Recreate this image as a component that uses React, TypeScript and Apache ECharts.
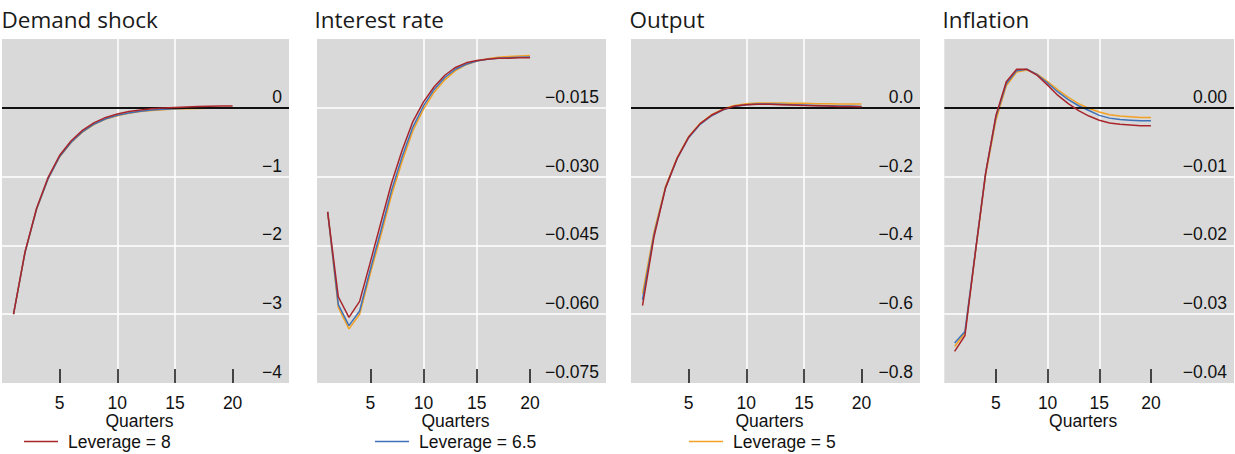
import React, { useEffect, useRef } from "react";
import * as echarts from "echarts";

const quarters = [1, 2, 3, 4, 5, 6, 7, 8, 9, 10, 11, 12, 13, 14, 15, 16, 17, 18, 19, 20];

const panelTitles = ["Demand shock", "Interest rate", "Output", "Inflation"];
const seriesNames = ["Leverage = 8", "Leverage = 6.5", "Leverage = 5"];
const seriesColors = ["#a8262b", "#3f72b8", "#f2a124"];

// Demand shock
const demandL8 = [-3.0, -2.09, -1.46, -1.01, -0.69, -0.48, -0.325, -0.215, -0.14, -0.09, -0.055, -0.032, -0.015, -0.003, 0.006, 0.013, 0.018, 0.022, 0.025, 0.027];
const demandL65 = [-3.0, -2.1, -1.47, -1.03, -0.71, -0.5, -0.345, -0.235, -0.16, -0.11, -0.075, -0.05, -0.033, -0.022, -0.014, -0.008, -0.005, -0.003, -0.002, -0.001];
const demandL5 = [-3.0, -2.1, -1.47, -1.03, -0.715, -0.505, -0.35, -0.24, -0.165, -0.115, -0.08, -0.055, -0.038, -0.027, -0.019, -0.013, -0.009, -0.006, -0.004, -0.003];

// Interest rate
const rateL8 = [-0.0377, -0.0562, -0.0607, -0.0572, -0.0487, -0.04, -0.0314, -0.0242, -0.018, -0.0137, -0.0104, -0.0079, -0.0062, -0.0052, -0.0047, -0.0044, -0.0042, -0.0042, -0.0041, -0.0041];
const rateL65 = [-0.0377, -0.0579, -0.0625, -0.0593, -0.0503, -0.0418, -0.033, -0.0256, -0.0192, -0.0146, -0.011, -0.0084, -0.0066, -0.0055, -0.0048, -0.0044, -0.0042, -0.0041, -0.004, -0.0039];
const rateL5 = [-0.0377, -0.0585, -0.0632, -0.06, -0.0512, -0.0428, -0.034, -0.0266, -0.02, -0.0153, -0.0116, -0.0089, -0.0069, -0.0056, -0.0048, -0.0043, -0.004, -0.0038, -0.0037, -0.0036];

// Output
const outputL8 = [-0.575, -0.374, -0.232, -0.147, -0.085, -0.046, -0.021, -0.005, 0.005, 0.009, 0.01, 0.01, 0.009, 0.008, 0.007, 0.006, 0.005, 0.004, 0.004, 0.003];
const outputL65 = [-0.558, -0.368, -0.232, -0.148, -0.087, -0.048, -0.023, -0.006, 0.004, 0.009, 0.011, 0.011, 0.01, 0.009, 0.008, 0.007, 0.006, 0.005, 0.005, 0.004];
const outputL5 = [-0.54, -0.36, -0.228, -0.145, -0.084, -0.045, -0.02, -0.003, 0.007, 0.012, 0.014, 0.014, 0.014, 0.013, 0.013, 0.012, 0.012, 0.011, 0.011, 0.011];

// Inflation
const inflL8 = [-0.0354, -0.0331, -0.0211, -0.0095, -0.0011, 0.0038, 0.0056, 0.0056, 0.0047, 0.0033, 0.0018, 0.0006, -0.0004, -0.0012, -0.0018, -0.0022, -0.0024, -0.0025, -0.0026, -0.0026];
const inflL65 = [-0.0342, -0.0325, -0.021, -0.0095, -0.0013, 0.0035, 0.0054, 0.0056, 0.0048, 0.0036, 0.0023, 0.0012, 0.0003, -0.0004, -0.0011, -0.0015, -0.0017, -0.0018, -0.0019, -0.0019];
const inflL5 = [-0.0347, -0.0327, -0.0212, -0.0098, -0.0018, 0.0032, 0.0052, 0.0055, 0.0049, 0.0038, 0.0026, 0.0015, 0.0006, -0.0001, -0.0006, -0.001, -0.0012, -0.0013, -0.0014, -0.0014];

const panelData = [
  [demandL8, demandL65, demandL5],
  [rateL8, rateL65, rateL5],
  [outputL8, outputL65, outputL5],
  [inflL8, inflL65, inflL5],
];

const yMin = [-4, -0.075, -0.8, -0.04];
const yMax = [1, 0, 0.2, 0.01];
const yInterval = [1, 0.015, 0.2, 0.01];
const yDecimals = [0, 3, 1, 2];
const showZeroLine = [true, false, true, true];
const xMax = [24.89, 27.13, 25.07, 28.04];
const xTicks = [5, 10, 15, 20];

const gridLeft = [2, 317, 631, 944.3];
const gridWidth = [287, 289, 289, 289.7];
const gridTop = 39;
const gridHeight = 344;
const titleX = [1.5, 314.5, 629.5, 942.5];
const legendLeft = [24, 375, 689];

const tickFont = "'Liberation Sans', Arial, sans-serif";
const tickSize = 17.5;

const fmt = (d: number) => (v: number) => {
  if (Math.abs(v) < 1e-9) return (0).toFixed(d);
  return (v < 0 ? "\u2212" : "") + Math.abs(v).toFixed(d);
};

export default function App() {
  const ref = useRef<HTMLDivElement>(null);
  useEffect(() => {
    if (!ref.current) return;
    const chart = echarts.init(ref.current, undefined, { renderer: "svg" });

    const grid = panelTitles.map((_, i) => ({
      left: gridLeft[i],
      top: gridTop,
      width: gridWidth[i],
      height: gridHeight,
      show: true,
      backgroundColor: "#d9d9d9",
      borderWidth: 0,
      containLabel: false,
    }));

    const xAxis = panelTitles.map((_, i) => ({
      type: "value",
      gridIndex: i,
      position: "bottom",
      min: 0,
      max: xMax[i],
      interval: 5,
      name: "Quarters",
      nameLocation: "middle",
      nameGap: 29,
      nameMoveOverlap: false,
      nameTextStyle: { fontFamily: tickFont, fontSize: tickSize, color: "#111", padding: [0, 12, 0, 0] },
      axisLine: { show: false, onZero: false },
      axisTick: {
        show: true,
        inside: true,
        length: 14,
        customValues: xTicks,
        lineStyle: { color: "#111", width: 1.5 },
      },
      axisLabel: {
        show: true,
        customValues: xTicks,
        margin: 11,
        fontFamily: tickFont,
        fontSize: tickSize,
        color: "#111",
      },
      splitLine: {
        show: true,
        showMinLine: false,
        showMaxLine: false,
        lineStyle: { color: "#ffffff", width: 1.5 },
      },
    }));

    const yAxis = panelTitles.map((_, i) => ({
      type: "value",
      gridIndex: i,
      position: "right",
      min: yMin[i],
      max: yMax[i],
      interval: yInterval[i],
      axisLine: { show: false, onZero: false },
      axisTick: { show: false },
      axisLabel: {
        show: true,
        inside: true,
        margin: 7,
        showMaxLabel: false,
        verticalAlign: "bottom",
        padding: [0, 0, 2, 0],
        fontFamily: tickFont,
        fontSize: tickSize,
        color: "#111",
        formatter: fmt(yDecimals[i]),
      },
      splitLine: {
        show: true,
        showMinLine: false,
        showMaxLine: false,
        lineStyle: { color: "#ffffff", width: 1.5 },
      },
    }));

    const series: any[] = [];
    panelData.forEach((sets, i) => {
      // draw order: Leverage = 5, 6.5, then 8 on top
      [2, 1, 0].forEach((k, n) => {
        const s: any = {
          type: "line",
          name: seriesNames[k],
          xAxisIndex: i,
          yAxisIndex: i,
          data: quarters.map((q, j) => [q, sets[k][j]]),
          showSymbol: false,
          symbol: "none",
          lineStyle: { color: seriesColors[k], width: 1.5 },
          itemStyle: { color: seriesColors[k] },
          z: 3 + n,
        };
        if (n === 0 && showZeroLine[i]) {
          s.markLine = {
            silent: true,
            symbol: ["none", "none"],
            label: { show: false },
            lineStyle: { color: "#111", width: 2, type: "solid" },
            data: [{ yAxis: 0 }],
          };
        }
        series.push(s);
      });
    });

    const legend = seriesNames.map((nm, k) => ({
      data: [nm],
      left: legendLeft[k],
      top: 432.5,
      padding: 0,
      icon: "rect",
      itemWidth: 34,
      itemHeight: 1.5,
      selectedMode: false,
      textStyle: { fontFamily: tickFont, fontSize: tickSize, color: "#111", padding: [0, 0, 0, 5] },
    }));

    const graphic = panelTitles.map((t, i) => ({
      type: "text",
      x: titleX[i],
      y: 19,
      style: {
        text: t,
        fontFamily: "'Open Sans', 'Noto Sans', sans-serif",
        fontSize: 22.5,
        fill: "#1a1a1a",
        verticalAlign: "middle",
        align: "left",
      },
    }));

    chart.setOption({
      animation: false,
      backgroundColor: "#ffffff",
      grid,
      xAxis,
      yAxis,
      series,
      legend,
      graphic,
    });

    return () => chart.dispose();
  }, []);

  return (
    <div
      ref={ref}
      style={{ position: "absolute", left: 0, top: 0, width: 1235, height: 454 }}
    />
  );
}
